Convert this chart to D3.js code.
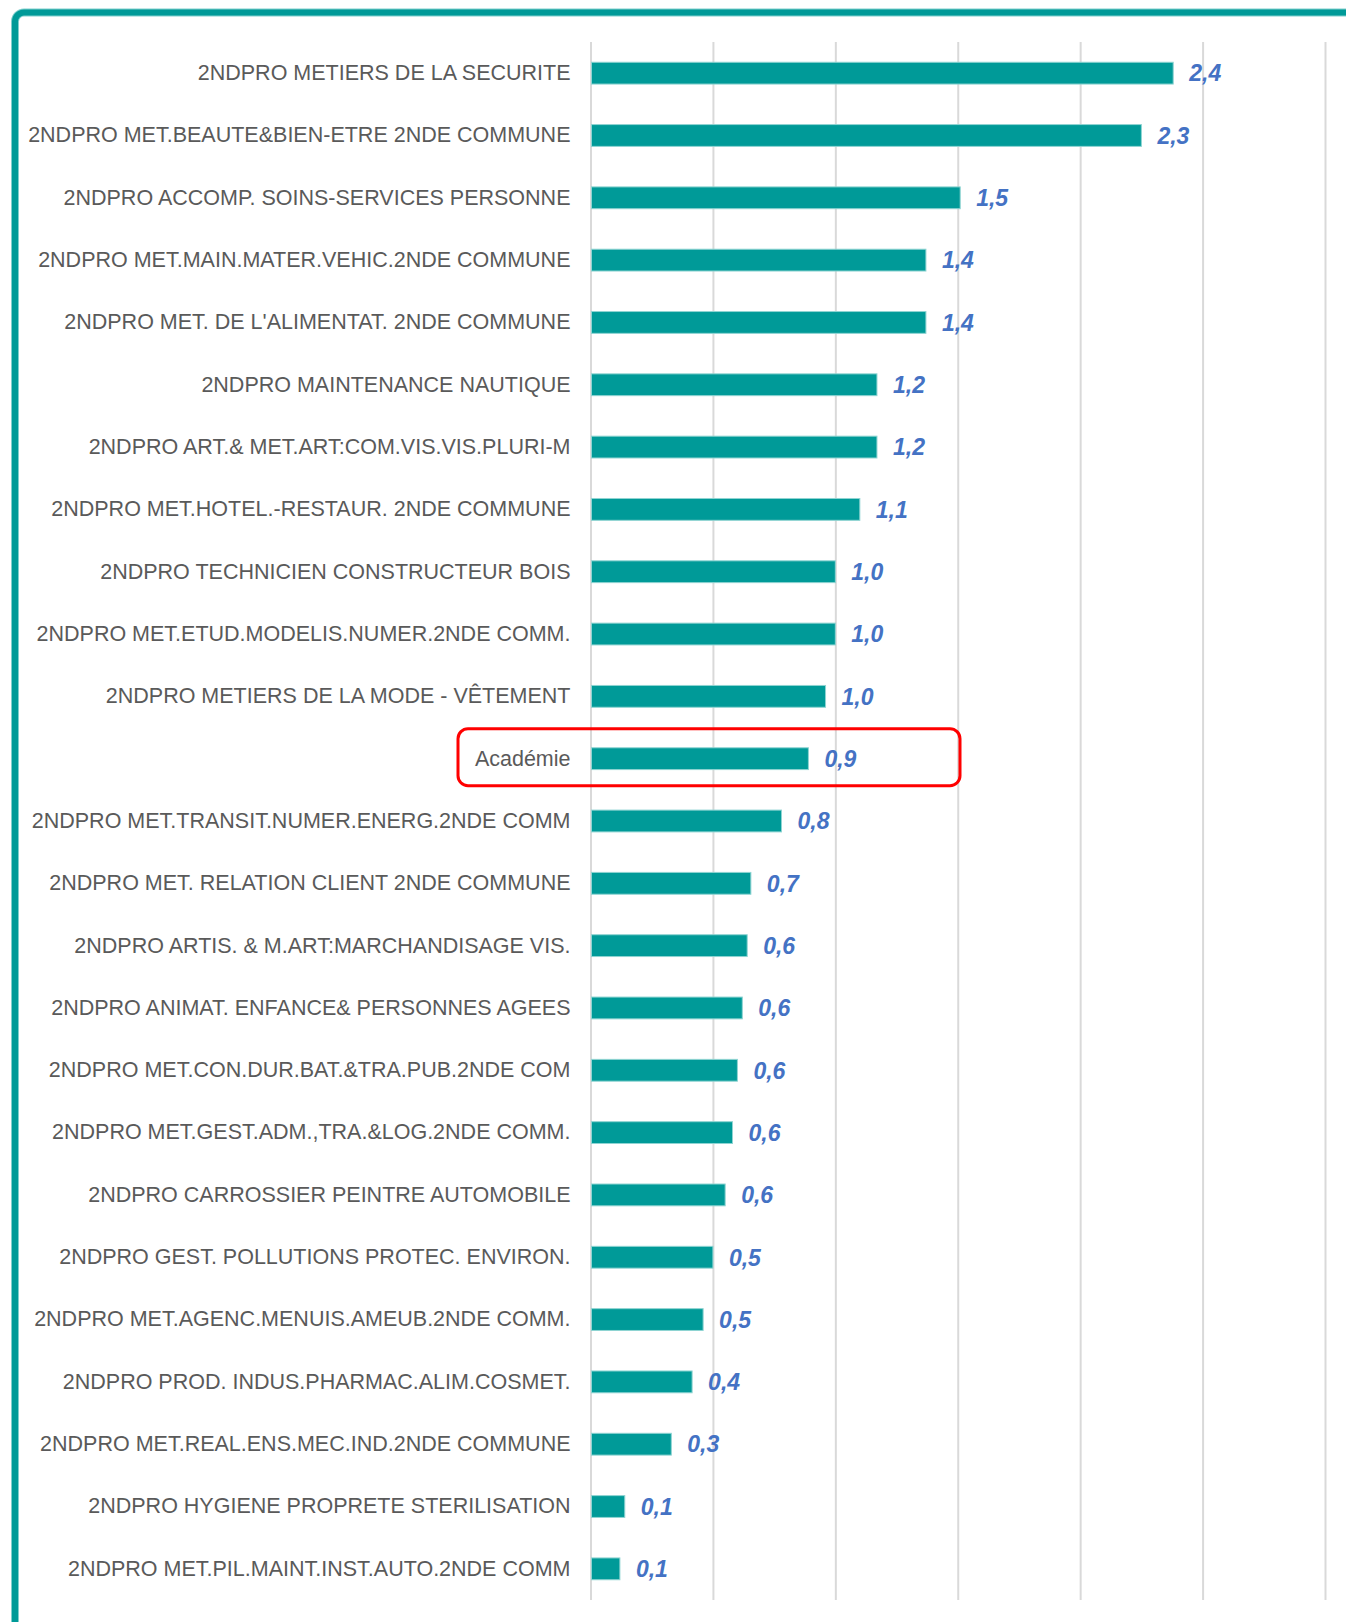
<!DOCTYPE html>
<html>
<head>
<meta charset="utf-8">
<script src="https://cdn.jsdelivr.net/npm/d3@7"></script>
<style>
  html, body { margin: 0; padding: 0; background: #fff; }
  svg { display: block; }
</style>
</head>
<body>
<svg id="chart" width="1346" height="1622"></svg>
<script>
const categories = [
  "2NDPRO METIERS DE LA SECURITE",
  "2NDPRO MET.BEAUTE&BIEN-ETRE 2NDE COMMUNE",
  "2NDPRO ACCOMP. SOINS-SERVICES PERSONNE",
  "2NDPRO MET.MAIN.MATER.VEHIC.2NDE COMMUNE",
  "2NDPRO MET. DE L'ALIMENTAT. 2NDE COMMUNE",
  "2NDPRO MAINTENANCE NAUTIQUE",
  "2NDPRO ART.& MET.ART:COM.VIS.VIS.PLURI-M",
  "2NDPRO MET.HOTEL.-RESTAUR. 2NDE COMMUNE",
  "2NDPRO TECHNICIEN CONSTRUCTEUR BOIS",
  "2NDPRO MET.ETUD.MODELIS.NUMER.2NDE COMM.",
  "2NDPRO METIERS DE LA MODE - VÊTEMENT",
  "Académie",
  "2NDPRO MET.TRANSIT.NUMER.ENERG.2NDE COMM",
  "2NDPRO MET. RELATION CLIENT 2NDE COMMUNE",
  "2NDPRO ARTIS. & M.ART:MARCHANDISAGE VIS.",
  "2NDPRO ANIMAT. ENFANCE& PERSONNES AGEES",
  "2NDPRO MET.CON.DUR.BAT.&TRA.PUB.2NDE COM",
  "2NDPRO MET.GEST.ADM.,TRA.&LOG.2NDE COMM.",
  "2NDPRO CARROSSIER PEINTRE AUTOMOBILE",
  "2NDPRO GEST. POLLUTIONS PROTEC. ENVIRON.",
  "2NDPRO MET.AGENC.MENUIS.AMEUB.2NDE COMM.",
  "2NDPRO PROD. INDUS.PHARMAC.ALIM.COSMET.",
  "2NDPRO MET.REAL.ENS.MEC.IND.2NDE COMMUNE",
  "2NDPRO HYGIENE PROPRETE STERILISATION",
  "2NDPRO MET.PIL.MAINT.INST.AUTO.2NDE COMM"
];
const values = [
  2.38, 2.25, 1.51, 1.37, 1.37, 1.17, 1.17, 1.10, 1.00, 1.00, 0.96, 0.89,
  0.78, 0.655, 0.64, 0.62, 0.60, 0.58, 0.55, 0.50, 0.46, 0.415, 0.33, 0.14, 0.12
];
const highlightCategory = "Académie";
const xTicks = [0, 0.5, 1, 1.5, 2, 2.5, 3];

const data = categories.map((c, i) => ({ cat: c, val: values[i] }));

const svg = d3.select("#chart");

// Frame
svg.append("rect")
  .attr("x", 15).attr("y", 12.5)
  .attr("width", 1420).attr("height", 1700)
  .attr("rx", 9)
  .attr("fill", "none")
  .attr("stroke", "#7fcfcd").attr("stroke-width", 8);
svg.append("rect")
  .attr("x", 15).attr("y", 12.5)
  .attr("width", 1420).attr("height", 1700)
  .attr("rx", 9)
  .attr("fill", "none")
  .attr("stroke", "#009a98").attr("stroke-width", 6);

const x = d3.scaleLinear().domain([0, 3]).range([590.5, 1325]);
const y = d3.scaleBand().domain(categories).range([42, 1600])
  .paddingInner(0.65).paddingOuter(0.325);

// Gridlines
const grid = svg.append("g")
  .attr("transform", "translate(0,1600)")
  .call(d3.axisBottom(x).tickValues(xTicks).tickSize(-(1600 - 42)).tickFormat(""));
grid.select(".domain").remove();
grid.selectAll(".tick line").attr("stroke", "#d9d9d9").attr("stroke-width", 2);

// Category axis
const yAxis = svg.append("g")
  .attr("transform", `translate(${x(0)},0)`)
  .call(d3.axisLeft(y).tickSize(0).tickPadding(20));
yAxis.select(".domain").remove();
yAxis.selectAll(".tick text")
  .attr("fill", "#5a5a5a")
  .style("font-family", "'Liberation Sans', Arial, sans-serif")
  .style("font-size", "21.5px");

// Bars
svg.append("g").selectAll("rect")
  .data(data).join("rect")
  .attr("x", x(0) + 1)
  .attr("y", d => y(d.cat))
  .attr("width", d => x(d.val) - x(0) - 1)
  .attr("height", y.bandwidth())
  .attr("fill", "#009a98")
  .attr("stroke", "#8fd4d2")
  .attr("stroke-width", 1);

// Value labels
const fmt = v => d3.format(".1f")(v).replace(".", ",");
svg.append("g").selectAll("text")
  .data(data).join("text")
  .attr("x", d => x(d.val) + 16)
  .attr("y", d => y(d.cat) + y.bandwidth() / 2)
  .attr("dy", "0.36em")
  .attr("fill", "#4472c4")
  .style("font-family", "'Liberation Sans', Arial, sans-serif")
  .style("font-size", "23px")
  .style("font-weight", "bold")
  .style("font-style", "italic")
  .text(d => fmt(d.val));

// Highlight box
const hy = y(highlightCategory) + y.bandwidth() / 2;
svg.append("rect")
  .attr("x", 458).attr("y", hy - 30)
  .attr("width", 502).attr("height", 57)
  .attr("rx", 10)
  .attr("fill", "none")
  .attr("stroke", "#ff0000")
  .attr("stroke-width", 3);
</script>
</body>
</html>
